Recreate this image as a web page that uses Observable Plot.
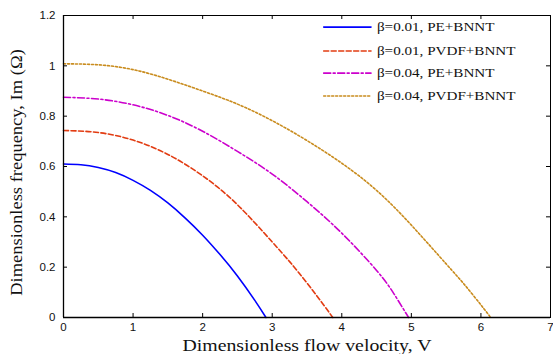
<!DOCTYPE html>
<html>
<head>
<meta charset="utf-8">
<script src="https://cdn.jsdelivr.net/npm/d3@7"></script>
<script src="https://cdn.jsdelivr.net/npm/@observablehq/plot@0.6"></script>
<style>
  html, body { margin: 0; padding: 0; background: #fff; }
  #chart svg { display: block; }
  g[aria-label="x-axis label"] text, g[aria-label="y-axis label"] text { font-family: "Liberation Serif", "DejaVu Serif", serif; font-size: 16.5px; }
</style>
</head>
<body>
<div id="chart"></div>
<script>
// Series data
const seriesNames = ["β=0.01, PE+BNNT", "β=0.01, PVDF+BNNT", "β=0.04, PE+BNNT", "β=0.04, PVDF+BNNT"];
const peB01V = [0, 0.25, 0.5, 0.75, 1.0, 1.25, 1.5, 1.75, 2.0, 2.25, 2.5, 2.75, 2.91];
const peB01W = [0.610, 0.607, 0.596, 0.576, 0.545, 0.505, 0.455, 0.395, 0.327, 0.250, 0.165, 0.068, 0];
const pvdfB01V = [0, 0.5, 1.0, 1.5, 2.0, 2.5, 3.0, 3.25, 3.5, 3.75, 3.87];
const pvdfB01W = [0.743, 0.735, 0.705, 0.648, 0.563, 0.448, 0.300, 0.222, 0.137, 0.046, 0];
const peB04V = [0, 0.5, 1.0, 1.5, 2.0, 2.5, 3.0, 3.5, 4.0, 4.5, 4.75, 4.96];
const peB04W = [0.875, 0.868, 0.845, 0.803, 0.740, 0.660, 0.570, 0.460, 0.335, 0.187, 0.094, 0];
const pvdfB04V = [0, 0.5, 1.0, 1.5, 2.0, 2.5, 3.0, 3.5, 4.0, 4.5, 5.0, 5.5, 5.75, 6.0, 6.14];
const pvdfB04W = [1.008, 1.004, 0.985, 0.947, 0.900, 0.848, 0.782, 0.703, 0.613, 0.505, 0.367, 0.213, 0.135, 0.050, 0];

const xTicks = [0, 1, 2, 3, 4, 5, 6, 7];
const yTicks = [0, 0.2, 0.4, 0.6, 0.8, 1, 1.2];
const colors = ["#0000ff", "#e23c12", "#cc00cc", "#c98c1e"];
const dashes = [null, "5,2.5", "7,2.5,2,2.5", "2,2"];

const seriesV = [peB01V, pvdfB01V, peB04V, pvdfB04V];
const seriesW = [peB01W, pvdfB01W, peB04W, pvdfB04W];
const series = seriesNames.map((name, i) => seriesV[i].map((v, j) => ({name, V: v, W: seriesW[i][j]})));

// legend rows (in data space)
const legendY = [1.154, 1.059, 0.971, 0.880];
const legendRows = seriesNames.map((name, i) => ({name, y: legendY[i]}));

const W = 553, H = 354;
const mL = 63, mR = 3, mT = 15, mB = 37;
const tickLen = 4;
const innerW = W - mL - mR, innerH = H - mT - mB;

const marks = [];
series.forEach((s, i) => {
  marks.push(Plot.line(s, {x: "V", y: "W", curve: "natural", stroke: colors[i], strokeWidth: 1.6, strokeDasharray: dashes[i]}));
});
// legend
legendRows.forEach((r, i) => {
  marks.push(Plot.line([{x: 3.74, y: r.y}, {x: 4.42, y: r.y}], {x: "x", y: "y", stroke: colors[i], strokeWidth: 1.6, strokeDasharray: dashes[i]}));
  marks.push(Plot.text([r], {x: () => 4.505, y: "y", text: "name", textAnchor: "start", fontSize: 13.5, fontFamily: "Liberation Serif, serif", fill: "#111", className: "legend-text"}));
});
// inward ticks
marks.push(Plot.tickX(xTicks, {x: d => d, stroke: "#000", insetTop: innerH - tickLen}));
marks.push(Plot.tickX(xTicks, {x: d => d, stroke: "#000", insetBottom: innerH - tickLen}));
marks.push(Plot.tickY(yTicks, {y: d => d, stroke: "#000", insetRight: innerW - tickLen}));
marks.push(Plot.tickY(yTicks, {y: d => d, stroke: "#000", insetLeft: innerW - tickLen}));
marks.push(Plot.frame({stroke: "#000", strokeWidth: 1}));
marks.push(Plot.ruleY([0], {stroke: "#000", strokeWidth: 1.6}));
marks.push(Plot.ruleX([0], {stroke: "#000", strokeWidth: 1.3}));
marks.push(Plot.axisX(xTicks, {tickSize: 0, tickPadding: 5, fontSize: 11.5, fontFamily: "Liberation Sans, Arial, sans-serif",
  label: "Dimensionless flow velocity, V", labelAnchor: "center", labelArrow: "none", labelOffset: 33}));
marks.push(Plot.axisY(yTicks, {tickSize: 0, tickPadding: 8, fontSize: 11.5, fontFamily: "Liberation Sans, Arial, sans-serif",
  tickFormat: d => String(d), label: "Dimensionless frequency, Im (Ω)", labelAnchor: "center", labelArrow: "none", labelOffset: 53}));

const chart = Plot.plot({
  width: W, height: H,
  marginLeft: mL, marginRight: mR, marginTop: mT, marginBottom: mB,
  x: {domain: [0, 7]},
  y: {domain: [0, 1.2]},
  style: {background: "#fff", color: "#111", fontFamily: "Liberation Sans, Arial, sans-serif"},
  marks
});
document.getElementById("chart").appendChild(chart);

// the reference's serif text is drawn a little wider than normal: stretch it
function stretch(sel, factor) {
  chart.querySelectorAll(sel).forEach(t => {
    const len = t.getComputedTextLength();
    t.setAttribute("textLength", (len * factor).toFixed(1));
    t.setAttribute("lengthAdjust", "spacingAndGlyphs");
  });
}
stretch('g[aria-label="x-axis label"] text', 1.2);
stretch('g[aria-label="y-axis label"] text', 1.12);
stretch('.legend-text text', 1.12);
// the y label sits slightly below the centre of the frame in the reference
const yl = chart.querySelector('g[aria-label="y-axis label"]');
if (yl) yl.setAttribute("transform", ((yl.getAttribute("transform") || "") + " translate(0,6)").trim());
</script>
</body>
</html>
